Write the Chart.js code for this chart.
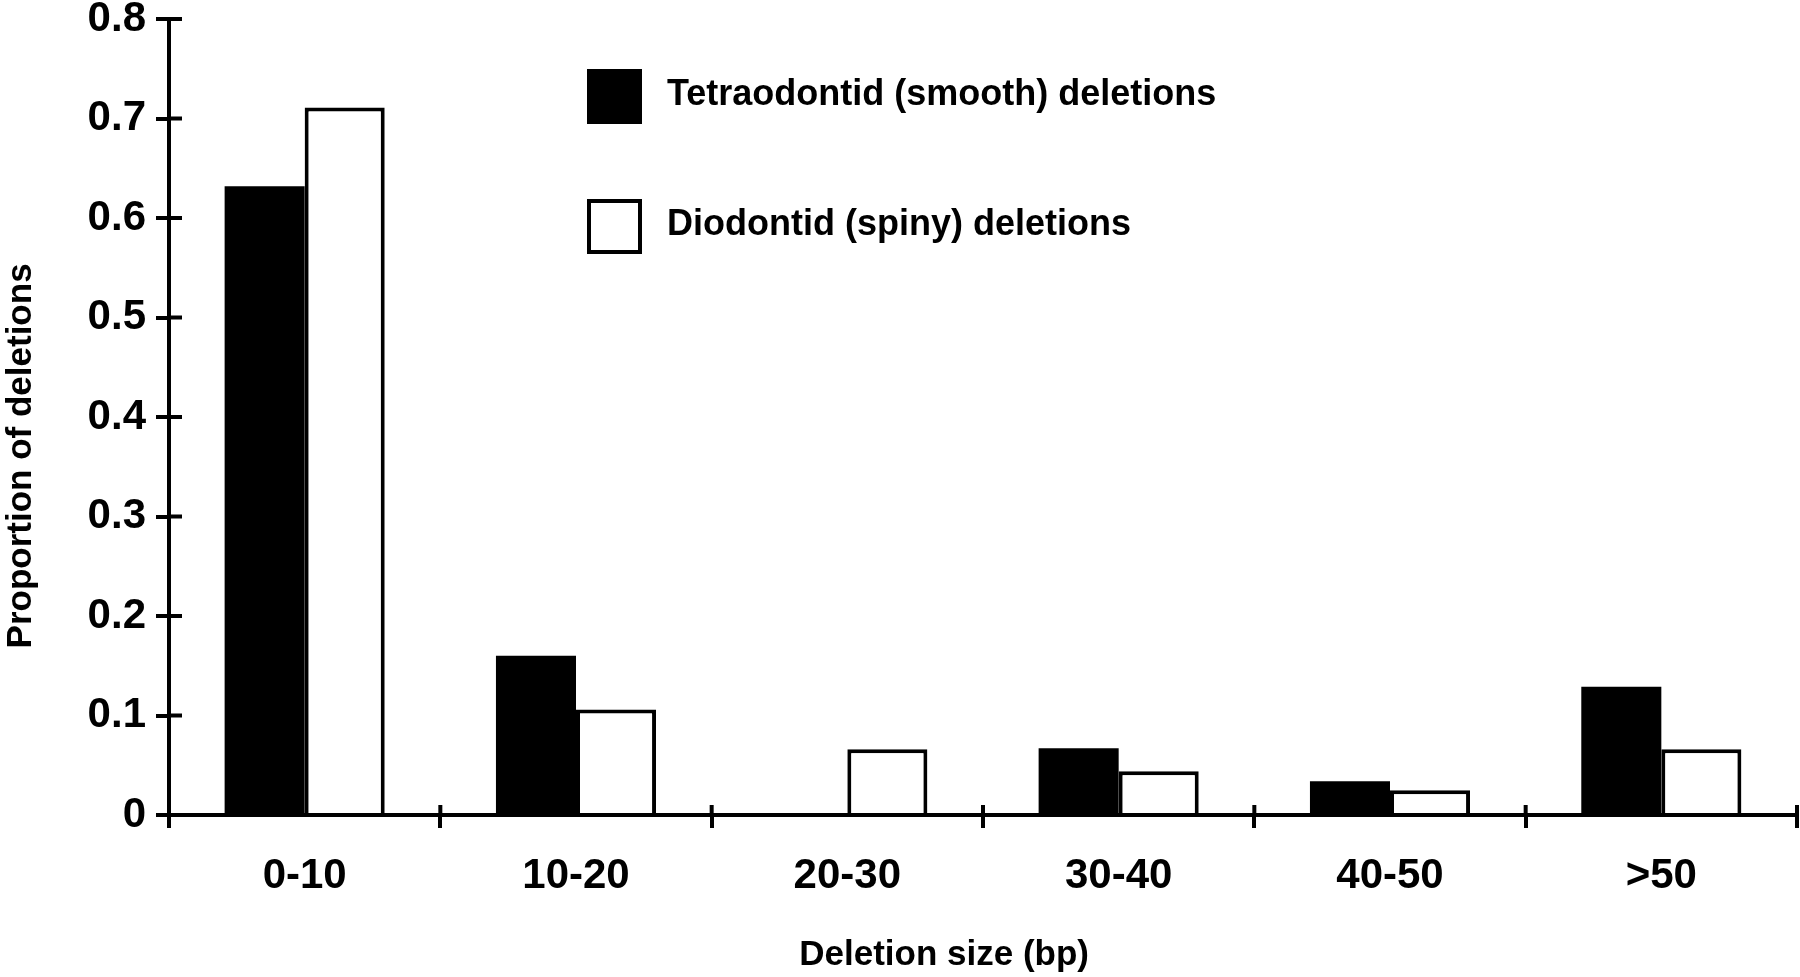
<!DOCTYPE html>
<html>
<head>
<meta charset="utf-8">
<script src="https://cdn.jsdelivr.net/npm/chart.js@4.4.0/dist/chart.umd.min.js"></script>
<style>
    html, body { margin: 0; padding: 0; background: #fff; }
    #wrap { width: 1800px; height: 977px; }
</style>
</head>
<body>
<div id="wrap"><canvas id="deletionChart" width="1800" height="977"></canvas></div>
<script>
// data
const sizeBins = ['0-10', '10-20', '20-30', '30-40', '40-50', '>50'];
const tetraodontid = [0.632, 0.160, 0, 0.067, 0.034, 0.129];
const diodontid = [0.711, 0.106, 0.066, 0.044, 0.025, 0.066];
const yTickValues = [0, 0.1, 0.2, 0.3, 0.4, 0.5, 0.6, 0.7, 0.8];

const FONT = '"Liberation Sans", Arial, Helvetica, sans-serif';

// ticks cross the axis in the original, chart.js only draws them outward
// so the inner half + the legend go in here
const axisExtras = {
    id: 'axisExtras',
    afterDraw(chart) {
        const ctx = chart.ctx;
        const xs = chart.scales.x;
        const ys = chart.scales.y;
        ctx.save();
        ctx.strokeStyle = '#000';
        ctx.lineWidth = 4;
        ctx.beginPath();
        ys.ticks.forEach(t => {
            const py = ys.getPixelForValue(t.value);
            ctx.moveTo(ys.right, py);
            ctx.lineTo(ys.right + 13, py);
        });
        for (let i = 0; i <= sizeBins.length; i++) {
            const px = xs.getPixelForValue(i - 0.5);
            ctx.moveTo(px, xs.top);
            ctx.lineTo(px, xs.top - 10);
        }
        ctx.stroke();

        // legend
        const boxX = 587, box = 55;
        const rows = [69, 199];
        ctx.font = 'bold 36px ' + FONT;
        ctx.textBaseline = 'middle';
        ctx.textAlign = 'left';
        chart.data.datasets.forEach((ds, i) => {
            const top = rows[i];
            ctx.fillStyle = ds.backgroundColor;
            ctx.fillRect(boxX, top, box, box);
            if (ds.borderWidth) {
                ctx.lineWidth = ds.borderWidth;
                ctx.strokeStyle = ds.borderColor;
                ctx.strokeRect(boxX + 2, top + 2, box - 4, box - 4);
            }
            ctx.fillStyle = '#000';
            ctx.fillText(ds.label, 667, top + 26);
        });
        ctx.restore();
    }
};

const ctx = document.getElementById('deletionChart').getContext('2d');
new Chart(ctx, {
    type: 'bar',
    data: {
        labels: sizeBins,
        datasets: [{
            label: 'Tetraodontid (smooth) deletions',
            data: tetraodontid,
            backgroundColor: '#000',
            borderWidth: 0
        }, {
            label: 'Diodontid (spiny) deletions',
            data: diodontid,
            backgroundColor: '#fff',
            borderColor: '#000',
            borderWidth: 4,
            borderSkipped: 'start'
        }]
    },
    options: {
        responsive: false,
        animation: false,
        devicePixelRatio: 1,
        layout: { padding: { top: 19, right: 3, left: 0, bottom: 0 } },
        datasets: { bar: { categoryPercentage: 0.59, barPercentage: 1.0 } },
        plugins: {
            legend: { display: false },
            tooltip: { enabled: false }
        },
        scales: {
            x: {
                grid: {
                    display: true,
                    offset: true,
                    drawOnChartArea: false,
                    drawTicks: true,
                    tickLength: 13,
                    color: '#000',
                    lineWidth: 4
                },
                border: { display: true, color: '#000', width: 4 },
                ticks: {
                    color: '#000',
                    font: { family: FONT, size: 42, weight: 'bold' },
                    padding: 23,
                    maxRotation: 0
                },
                title: {
                    display: true,
                    text: 'Deletion size (bp)        ',
                    color: '#000',
                    font: { family: FONT, size: 35, weight: 'bold' },
                    padding: { top: 0, bottom: 1 }
                },
                afterFit(s) {
                    s.height = 162;
                    s.paddingLeft = 0;
                    s.paddingRight = 0;
                }
            },
            y: {
                min: 0,
                max: 0.8,
                afterBuildTicks(s) {
                    s.ticks = yTickValues.map(v => ({ value: v }));
                },
                grid: {
                    display: true,
                    drawOnChartArea: false,
                    drawTicks: true,
                    tickLength: 13,
                    color: '#000',
                    lineWidth: 4
                },
                border: { display: true, color: '#000', width: 4 },
                ticks: {
                    color: '#000',
                    font: { family: FONT, size: 42, weight: 'bold' },
                    padding: 10,
                    callback: v => v === 0 ? '0' : v.toFixed(1)
                },
                title: {
                    display: true,
                    text: 'Proportion of deletions        ',
                    color: '#000',
                    font: { family: FONT, size: 35, weight: 'bold' },
                    padding: { top: 0, bottom: 0 }
                },
                afterFit(s) {
                    s.width = 169;
                    s.paddingTop = 0;
                    s.paddingBottom = 0;
                }
            }
        }
    },
    plugins: [axisExtras]
});
</script>
</body>
</html>
